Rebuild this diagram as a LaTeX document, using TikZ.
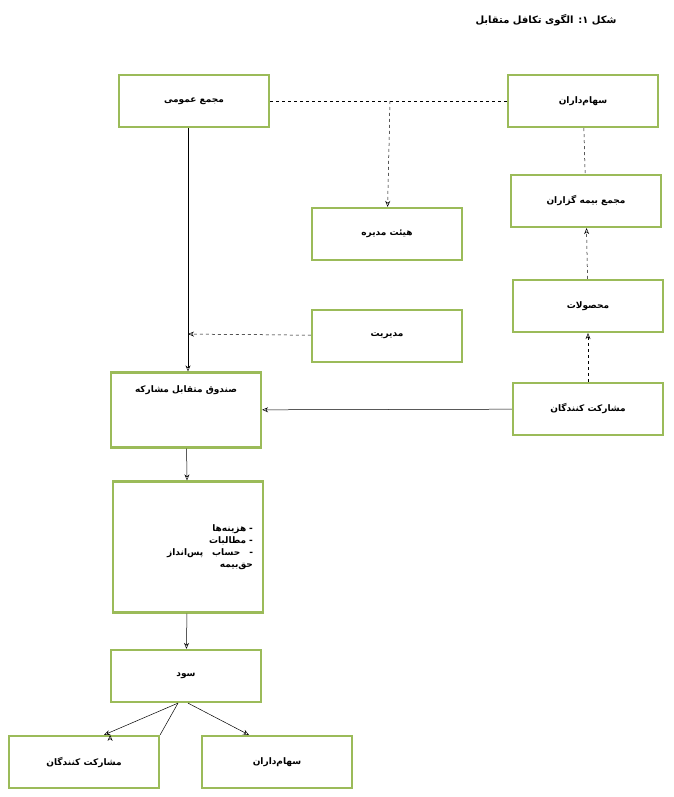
\documentclass[tikz,border=0pt]{standalone}
\usepackage{fontspec}
\newfontfamily\arabicfont[Script=Arabic]{DejaVu Sans}
\TeXXeTstate=1
\usetikzlibrary{positioning,arrows.meta}
\definecolor{boxgreen}{RGB}{155,187,89}
\newcommand{\fa}[1]{\arabicfont\bfseries\beginR #1\endR}
\tikzset{
  gbox/.style={draw=boxgreen,line width=2.2pt,minimum width=150pt,minimum height=52pt,inner sep=3pt,font=\fontsize{9}{12}\selectfont},
  dline/.style={dashed,line width=0.5pt},
  sline/.style={line width=0.5pt},
  tip/.style={-{Stealth[length=6pt,width=5pt,open]}},
}
\begin{document}
\begin{tikzpicture}[x=1pt,y=-1pt]
\useasboundingbox (0,0) rectangle (673,797);
\node[font=\fontsize{10}{12}\selectfont] (title) at (546,20) {\fa{شکل ۱: الگوی تکافل متقابل}};

\node[gbox] (assembly) at (194,101) {\fa{مجمع عمومی}};
\node[gbox] (holders) at (583,101) {\fa{سهام‌داران}};
\node[gbox] (board) at (387,234) {\fa{هیئت مدیره}};
\node[gbox] (insured) at (586,201) {\fa{مجمع بیمه گزاران}};
\node[gbox] (products) at (588,306) {\fa{محصولات}};
\node[gbox] (manage) at (387,336) {\fa{مدیریت}};
\node[gbox] (partic) at (588,409) {\fa{مشارکت کنندگان}};
\node[gbox,minimum height=75pt] (fund) at (186,410) {};
\node[font=\fontsize{9}{12}\selectfont] (fundtxt) at (186,390) {\fa{صندوق متقابل مشارکه}};
\node[gbox,minimum height=131pt,text width=130pt,align=right] (list) at (188,547)
  {\fa{- هزینه‌ها}\\ \fa{- مطالبات}\\ \fa{-\quad حساب\quad پس‌انداز}\\ \fa{حق‌بیمه}\\[22pt]};
\node[gbox] (profit) at (186,676) {\fa{سود}};
\node[gbox] (partic2) at (84,762) {\fa{مشارکت کنندگان}};
\node[gbox] (holders2) at (277,762) {\fa{سهام‌داران}};

\coordinate (split) at (390,101);
\draw[dline] (assembly) -- (holders);
\draw[dline,tip] (split) -- (board);
\draw[dline] (holders) -- (insured);
\draw[dline,tip] (products) -- (insured);
\draw[dline,tip] (partic.north -| products) -- (products);
\coordinate (join) at (188,334);
\draw[dline,tip] (manage) -- (join);
\draw[sline,tip] (assembly.south -| join) -- (fund.north -| join);
\draw[sline,tip] (partic) -- (fund);
\draw[sline,tip] (fund) -- (list);
\draw[sline,tip] (list) -- (profit);
\draw[sline,tip] (profit.south) ++(-8,0) -- (partic2.north east) ++(-50,0);
\draw[sline,tip] ([xshift=-8pt]profit.south) -- ([xshift=20pt]partic2.north);
\draw[sline,tip] ([xshift=2pt]profit.south) -- ([xshift=-28pt]holders2.north);
\end{tikzpicture}
\end{document}
